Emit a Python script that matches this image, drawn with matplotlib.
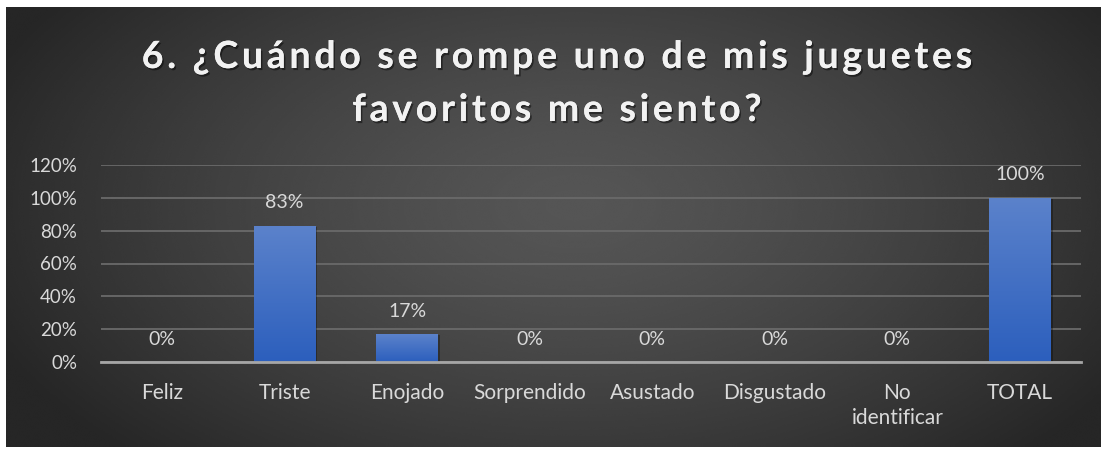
import numpy as np
import matplotlib
matplotlib.use("Agg")
import matplotlib.pyplot as plt
import matplotlib.patheffects as pe
from matplotlib import font_manager as fm
from matplotlib.font_manager import FontProperties
from matplotlib.ft2font import FT2Font
from matplotlib.ticker import PercentFormatter
from matplotlib.colors import LinearSegmentedColormap

# datos de la pregunta 6
categorias = ["Feliz", "Triste", "Enojado", "Sorprendido", "Asustado",
              "Disgustado", "No\nidentificar", "TOTAL"]
valores = [0.0, 0.83, 0.17, 0.0, 0.0, 0.0, 0.0, 1.0]
titulo = ["6. ¿Cuándo se rompe uno de mis juguetes", "favoritos me siento?"]

W, H = 1101, 449
fig = plt.figure(figsize=(W / 100, H / 100), dpi=100)
fig.patch.set_facecolor("white")

# fondo gris oscuro con degradado radial
bg = fig.add_axes([6 / W, 2 / H, 1095 / W, 440 / H])
bg.set_axis_off()
yy, xx = np.mgrid[0:1:300j, 0:1:700j]
r = np.sqrt(((xx - 0.52) / 0.58) ** 2 + ((yy - 0.45) / 0.8) ** 2)
gris = 0.335 - 0.185 * np.clip(r, 0, 1) ** 1.4
bg.imshow(gris, cmap="gray", vmin=0, vmax=1, aspect="auto",
          extent=[0, 1, 0, 1], interpolation="bicubic")
bg.set_xlim(0, 1)
bg.set_ylim(0, 1)

ax = fig.add_axes([100.7 / W, 87 / H, 980.5 / W, 197 / H])
ax.patch.set_alpha(0)

x = np.arange(len(categorias))
barras = ax.bar(x, valores, width=0.5, color="#4472c4", zorder=3,
                path_effects=[pe.withSimplePatchShadow(offset=(1.5, -1), shadow_rgbFace="black", alpha=0.3)])

# degradado azul dentro de cada barra
grad = np.linspace(0, 1, 100).reshape(-1, 1)
azul = LinearSegmentedColormap.from_list("azul", ["#2c5fbd", "#5b82cb"])
for b in barras:
    if b.get_height() <= 0:
        continue
    x0, y0 = b.get_x(), b.get_y()
    im = ax.imshow(grad, cmap=azul, origin="lower", aspect="auto", zorder=4,
                   extent=[x0, x0 + b.get_width(), y0, y0 + b.get_height()])
    im.set_clip_path(b)

for xi, v in zip(x, valores):
    ax.annotate(f"{v * 100:.0f}%", (xi, v), xytext=(0, 12.5), textcoords="offset points",
                ha="center", va="baseline", color="#d9d9d9", fontsize=14, family="Lato")

ax.set_xlim(-0.5, len(categorias) - 0.5)
ax.set_ylim(0, 1.2)
ax.set_yticks(np.arange(0, 1.21, 0.2))
ax.yaxis.set_major_formatter(PercentFormatter(xmax=1, decimals=0))
ax.set_xticks(x)
ax.set_xticklabels(categorias, linespacing=1.3)
ax.tick_params(axis="both", length=0, labelcolor="#d9d9d9")
ax.tick_params(axis="y", pad=17, labelsize=13.5)
ax.tick_params(axis="x", pad=15, labelsize=15)
for t in ax.get_xticklabels() + ax.get_yticklabels():
    t.set_family("Lato")
ax.grid(axis="y", color="#6a6a6a", linewidth=1.3, zorder=0)
for s in ["top", "right", "left"]:
    ax.spines[s].set_visible(False)
ax.spines["bottom"].set_color("#a6a6a6")
ax.spines["bottom"].set_linewidth(2)
ax.spines["bottom"].set_zorder(5)

# título en negrita con espaciado entre letras
tam = 27
fp = FontProperties(family="Lato", weight="bold", size=tam)
fuente = FT2Font(fm.findfont(fp))
fuente.set_size(tam, 100)
espacio = 3.7
sombra = [pe.withSimplePatchShadow(offset=(1.2, -1.5), shadow_rgbFace="black", alpha=0.45), pe.Normal()]


def titulo_espaciado(linea, base_y, centro_x=557):
    avances = [fuente.load_char(ord(c)).linearHoriAdvance / 65536 for c in linea]
    total = sum(avances) + espacio * (len(linea) - 1)
    pos = centro_x - total / 2
    for c, a in zip(linea, avances):
        fig.text(pos / W, 1 - base_y / H, c, fontproperties=fp, color="#f2f2f2",
                 ha="left", va="baseline", path_effects=sombra)
        pos += a + espacio


titulo_espaciado(titulo[0], 68)
titulo_espaciado(titulo[1], 121)

fig.savefig("out.png", dpi=100, facecolor="white")
